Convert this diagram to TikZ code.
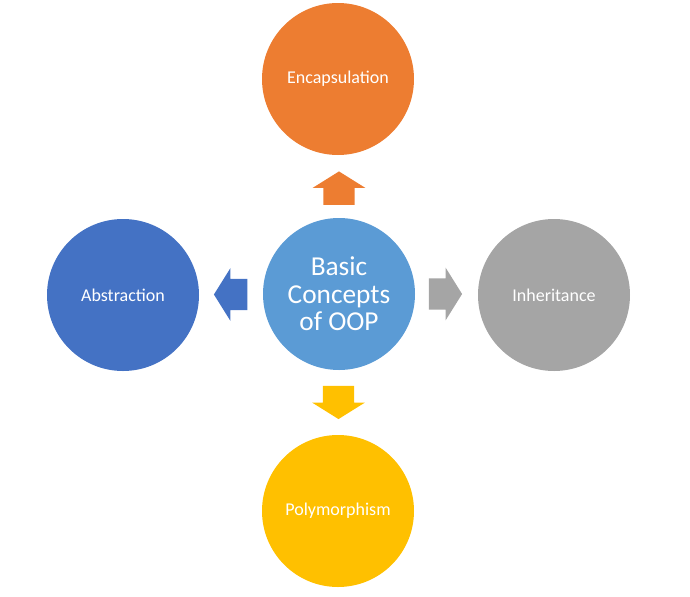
\documentclass[tikz,border=0pt]{standalone}
\usepackage{fontspec}
\setmainfont{Carlito}
\usetikzlibrary{shapes.arrows, positioning}

\definecolor{encorange}{HTML}{ED7D31}
\definecolor{absblue}{HTML}{4472C4}
\definecolor{basicblue}{HTML}{5B9BD5}
\definecolor{inhgray}{HTML}{A5A5A5}
\definecolor{polyyellow}{HTML}{FFC000}

\tikzset{
	concept/.style={circle, fill=#1, draw=none, minimum size=114pt, inner sep=0pt,
		text=white, font=\fontsize{13.5}{15}\selectfont},
	blockarrow/.style={single arrow, fill=#1, draw=none, inner xsep=0pt, inner ysep=11.6pt,
		minimum height=25pt, single arrow head extend=7.9pt, single arrow tip angle=116}
}

\begin{document}
\begin{tikzpicture}[x=0.75pt, y=-0.75pt]
	\useasboundingbox (0, 0) rectangle (690, 597);

	\node[concept=basicblue, font=\fontsize{20.5}{20.5}\selectfont, align=center] (basic) at (339, 294) {Basic\\Concepts\\of OOP};
	\node[concept=encorange] (encap) at (338, 79) {Encapsulation};
	\node[concept=absblue] (abstr) at (123, 295) {Abstraction};
	\node[concept=inhgray] (inher) at (554, 295) {Inheritance};
	\node[concept=polyyellow] (poly) at (338, 511) {Polymorphism};

	\node[blockarrow=encorange, rotate=90] (toencap) at (339, 193) {};
	\node[blockarrow=absblue, rotate=180] (toabstr) at (235.5, 294.5) {};
	\node[blockarrow=inhgray] (toinher) at (440.5, 294) {};
	\node[blockarrow=polyyellow, rotate=-90] (topoly) at (338.5, 397.5) {};
\end{tikzpicture}
\end{document}
